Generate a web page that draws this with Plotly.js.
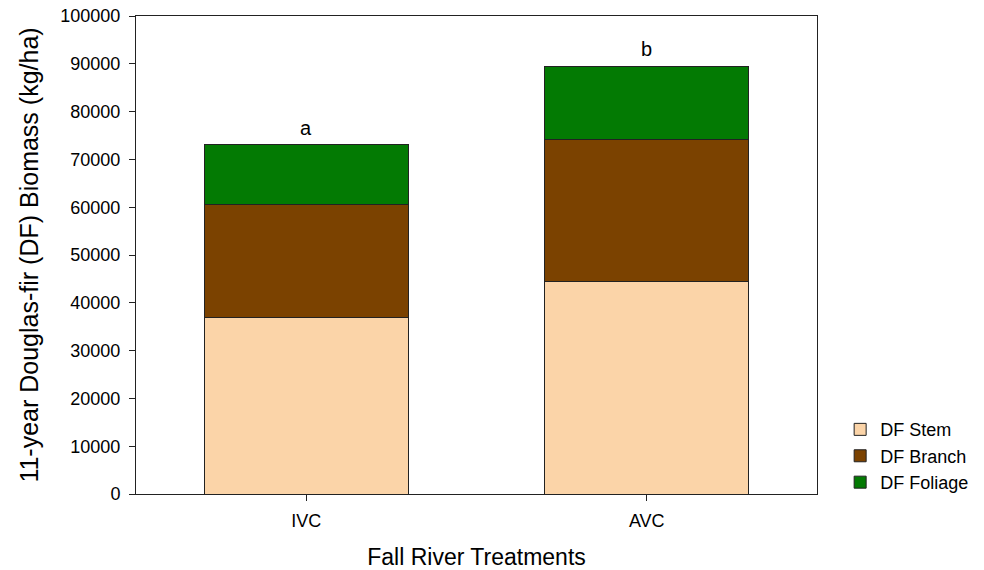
<!DOCTYPE html>
<html>
<head>
<meta charset="utf-8">
<script src="https://cdn.plot.ly/plotly-3.0.1.min.js"></script>
<style>html,body{margin:0;padding:0;background:#fff;}</style>
</head>
<body>
<div id="chart" style="width:984px;height:570px;"></div>
<script>
const categories = ["IVC", "AVC"];
const stem = [37000, 44400];
const branch = [23500, 29800];
const foliage = [12600, 15300];
const letters = ["a", "b"];
const seriesNames = ["DF Stem", "DF Branch", "DF Foliage"];
const colors = ["#FBD4A8", "#7B4200", "#037A03"];

const series = [stem, branch, foliage];
const traces = series.map((vals, i) => ({
  type: "bar",
  name: seriesNames[i],
  x: categories,
  y: vals,
  width: 0.6,
  marker: {color: colors[i], line: {color: "#222", width: 1}},
  hoverinfo: "skip"
}));

const totals = categories.map((c, j) => stem[j] + branch[j] + foliage[j]);
const annotations = categories.map((c, j) => ({
  x: c, y: totals[j], xref: "x", yref: "y",
  text: letters[j], showarrow: false, yanchor: "bottom", yshift: 4,
  font: {family: "Liberation Sans, Arial, sans-serif", size: 20, color: "#000"}
}));

const layout = {
  width: 984, height: 570,
  margin: {l: 136, r: 167, t: 16, b: 76, autoexpand: false},
  barmode: "stack",
  paper_bgcolor: "#fff", plot_bgcolor: "#fff",
  font: {family: "Liberation Sans, Arial, sans-serif", color: "#000", size: 18},
  xaxis: {
    type: "category", range: [-0.5, 1.5],
    showline: true, linecolor: "#222", linewidth: 1, mirror: true,
    ticks: "outside", ticklen: 6, tickcolor: "#222",
    showgrid: false, zeroline: false,
    tickfont: {size: 18}, ticklabelstandoff: 4,
    title: {text: "Fall River Treatments", font: {size: 23}, standoff: 30}
  },
  yaxis: {
    range: [0, 100000], dtick: 10000, tickformat: "d",
    showline: true, linecolor: "#222", linewidth: 1, mirror: true,
    ticks: "outside", ticklen: 6, tickcolor: "#222",
    showgrid: false, zeroline: false,
    tickfont: {size: 18}, ticklabelstandoff: 5,
    title: {text: "11-year Douglas-fir (DF) Biomass (kg/ha)", font: {size: 25}, standoff: 14}
  },
  legend: {
    x: 1.034, xanchor: "left", y: -0.015, yanchor: "bottom",
    traceorder: "normal", font: {size: 18},
    bgcolor: "rgba(0,0,0,0)"
  },
  annotations: annotations,
  showlegend: true
};

Plotly.newPlot("chart", traces, layout, {displayModeBar: false, staticPlot: true});
</script>
</body>
</html>
